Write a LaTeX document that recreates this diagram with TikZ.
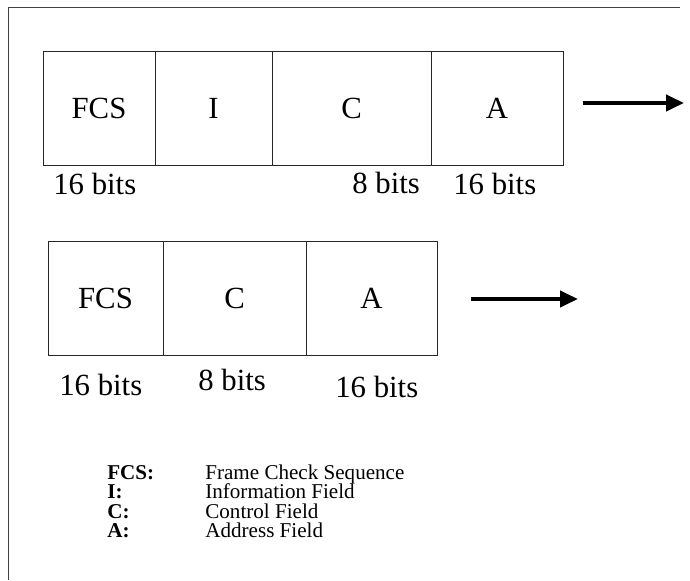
\documentclass[tikz,border=0pt]{standalone}
\usepackage{fontspec}
\setmainfont{Liberation Serif}
\usetikzlibrary{arrows.meta,positioning}

\begin{document}
\begin{tikzpicture}[x=0.2mm, y=-0.2mm,
    cell/.style={draw=black!85, line width=0.5pt, rectangle, inner sep=0pt, outer sep=0pt,
      font=\fontsize{17.5}{20}\selectfont},
    bits/.style={anchor=base west, inner sep=0pt, font=\fontsize{17.5}{20}\selectfont},
    key/.style={anchor=base west, inner sep=0pt, font=\fontsize{12}{14}\selectfont\bfseries},
    desc/.style={anchor=base west, inner sep=0pt, font=\fontsize{12}{14}\selectfont},
    flow/.style={line width=2.3pt, -{Triangle[length=3.6mm, width=3.2mm]}},
    frame/.style={line width=0.5pt, black!75}
  ]
  % feste Bildgroesse
  \useasboundingbox (0,0) rectangle (690,580);

  % Rahmen (nur links und oben)
  \coordinate (tl) at (8,7);
  \coordinate (bl) at (8,580);
  \coordinate (tr) at (680,7);
  \draw[frame] (bl) -- (tl) -- (tr);

  % Rahmen 1: FCS | I | C | A
  \node[cell, minimum width=22.4mm, minimum height=22.8mm] (fcsA) at (99,108) {FCS};
  \node[cell, minimum width=23.4mm, minimum height=22.8mm, right=0pt of fcsA] (infA) {I};
  \node[cell, minimum width=31.8mm, minimum height=22.8mm, right=0pt of infA] (ctlA) {C};
  \node[cell, minimum width=26.4mm, minimum height=22.8mm, right=0pt of ctlA] (adrA) {A};

  \node[bits] (bfcsA) at (53,195) {16 bits};
  \node[bits] (bctlA) at (352,194) {8 bits};
  \node[bits] (badrA) at (453,195) {16 bits};

  \coordinate (sA) at (583,103);
  \coordinate (eA) at (684,103);
  \draw[flow] (sA) -- (eA);

  % Rahmen 2: FCS | C | A
  \node[cell, minimum width=23mm, minimum height=22.8mm] (fcsB) at (105.5,298) {FCS};
  \node[cell, minimum width=28.6mm, minimum height=22.8mm, right=0pt of fcsB] (ctlB) {C};
  \node[cell, minimum width=26.2mm, minimum height=22.8mm, right=0pt of ctlB] (adrB) {A};

  \node[bits] (bfcsB) at (59,395) {16 bits};
  \node[bits] (bctlB) at (198,390) {8 bits};
  \node[bits] (badrB) at (335,397) {16 bits};

  \coordinate (sB) at (471,299);
  \coordinate (eB) at (578,299);
  \draw[flow] (sB) -- (eB);

  % Legende
  \node[key] (kfcs) at (107,479) {FCS:};
  \node[key] (kinf) at (107,498.5) {I:};
  \node[key] (kctl) at (107,518) {C:};
  \node[key] (kadr) at (107,537.5) {A:};
  \node[desc] (dfcs) at (205,479) {Frame Check Sequence};
  \node[desc] (dinf) at (205,498.5) {Information Field};
  \node[desc] (dctl) at (205,518) {Control Field};
  \node[desc] (dadr) at (205,537.5) {Address Field};
\end{tikzpicture}
\end{document}
